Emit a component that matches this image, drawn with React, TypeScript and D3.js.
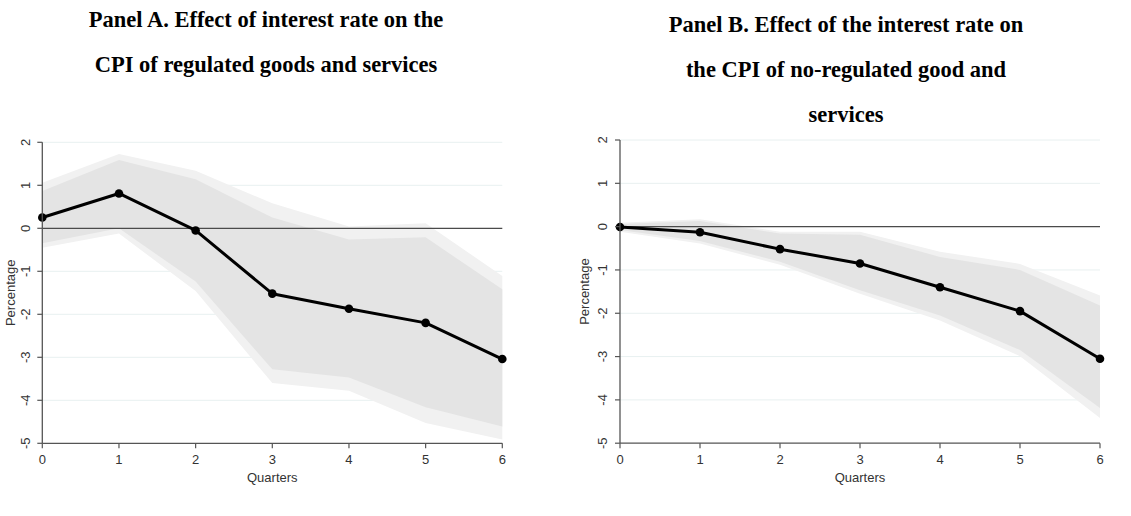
import React from "react";
import * as d3 from "d3";

// Horizons (quarters after the shock)
const quarters = [0, 1, 2, 3, 4, 5, 6];
const yTicks = [2, 1, 0, -1, -2, -3, -4, -5];

// Panel A: regulated goods and services
const regResponse = [0.25, 0.81, -0.05, -1.52, -1.87, -2.2, -3.04];
const regInnerHi = [0.87, 1.59, 1.14, 0.25, -0.26, -0.21, -1.42];
const regInnerLo = [-0.35, 0.0, -1.24, -3.28, -3.47, -4.16, -4.61];
const regOuterHi = [1.06, 1.73, 1.34, 0.58, 0.04, 0.12, -1.11];
const regOuterLo = [-0.45, -0.12, -1.46, -3.6, -3.78, -4.53, -4.91];

// Panel B: non-regulated goods and services
const nonRegResponse = [-0.01, -0.13, -0.52, -0.85, -1.4, -1.95, -3.05];
const nonRegInnerHi = [0.06, 0.13, -0.16, -0.19, -0.7, -1.0, -1.82];
const nonRegInnerLo = [-0.08, -0.33, -0.81, -1.47, -2.05, -2.85, -4.19];
const nonRegOuterHi = [0.09, 0.17, -0.12, -0.12, -0.58, -0.86, -1.59];
const nonRegOuterLo = [-0.12, -0.39, -0.88, -1.55, -2.17, -2.99, -4.42];

const titleA = ["Panel A. Effect of interest rate on the", "CPI of regulated goods and services"];
const titleB = [
  "Panel B. Effect of the interest rate on",
  "the CPI of no-regulated good and",
  "services",
];

const SANS = "'Liberation Sans', Arial, sans-serif";
const SERIF = "'Liberation Serif', 'Times New Roman', serif";

type PanelProps = {
  left: number;
  right: number;
  top: number;
  bottom: number;
  response: number[];
  innerHi: number[];
  innerLo: number[];
  outerHi: number[];
  outerLo: number[];
  tickLabelX: number;
  yTitleX: number;
  title: string[];
  titleX: number;
  titleY: number[];
};

function Panel(p: PanelProps) {
  const x = d3.scaleLinear().domain([0, 6]).range([p.left, p.right]);
  const y = d3.scaleLinear().domain([-5, 2]).range([p.bottom, p.top]);

  const band = (hi: number[], lo: number[]) =>
    d3
      .area<number>()
      .x((d) => x(d))
      .y0((d) => y(lo[d]))
      .y1((d) => y(hi[d]))(quarters) || "";

  const line = d3
    .line<number>()
    .x((d) => x(d))
    .y((d) => y(p.response[d]))(quarters) || "";

  const midX = (p.left + p.right) / 2;
  const midY = (p.top + p.bottom) / 2;

  return (
    <g>
      {p.title.map((t, i) => (
        <text
          key={t}
          x={p.titleX}
          y={p.titleY[i]}
          textAnchor="middle"
          fontFamily={SERIF}
          fontWeight="bold"
          fontSize={22.5}
          fill="#000"
        >
          {t}
        </text>
      ))}

      {/* grid */}
      {yTicks
        .filter((t) => t !== -5 && t !== 0)
        .map((t) => (
          <line
            key={`g${t}`}
            x1={p.left}
            x2={p.right}
            y1={y(t)}
            y2={y(t)}
            stroke="#e8f0f0"
            strokeWidth={1}
          />
        ))}

      {/* confidence bands */}
      <path d={band(p.outerHi, p.outerLo)} fill="#f1f1f1" />
      <path d={band(p.innerHi, p.innerLo)} fill="#e4e4e4" />

      {/* zero reference */}
      <line x1={p.left} x2={p.right} y1={y(0)} y2={y(0)} stroke="#4a4a4a" strokeWidth={1.3} />

      {/* impulse response */}
      <path d={line} fill="none" stroke="#000" strokeWidth={3} strokeLinejoin="round" />
      {quarters.map((q) => (
        <circle key={`p${q}`} cx={x(q)} cy={y(p.response[q])} r={4.3} fill="#000" />
      ))}

      {/* y axis */}
      <line x1={p.left} x2={p.left} y1={y(2)} y2={y(-5)} stroke="#555" strokeWidth={1.3} />
      {yTicks.map((t) => (
        <g key={`y${t}`}>
          <line x1={p.left - 5} x2={p.left} y1={y(t)} y2={y(t)} stroke="#555" strokeWidth={1.2} />
          <text
            transform={`translate(${p.tickLabelX},${y(t)}) rotate(-90)`}
            textAnchor="middle"
            dy="0.35em"
            fontFamily={SANS}
            fontSize={13}
            fill="#333"
          >
            {t}
          </text>
        </g>
      ))}
      <text
        transform={`translate(${p.yTitleX},${midY}) rotate(-90)`}
        textAnchor="middle"
        dy="0.35em"
        fontFamily={SANS}
        fontSize={13}
        fill="#333"
      >
        Percentage
      </text>

      {/* x axis */}
      <line x1={p.left} x2={p.right} y1={y(-5)} y2={y(-5)} stroke="#555" strokeWidth={1.3} />
      {quarters.map((q) => (
        <g key={`x${q}`}>
          <line x1={x(q)} x2={x(q)} y1={y(-5)} y2={y(-5) + 5} stroke="#555" strokeWidth={1.2} />
          <text x={x(q)} y={y(-5) + 21} textAnchor="middle" fontFamily={SANS} fontSize={13} fill="#333">
            {q}
          </text>
        </g>
      ))}
      <text x={midX} y={y(-5) + 39} textAnchor="middle" fontFamily={SANS} fontSize={13} fill="#333">
        Quarters
      </text>
    </g>
  );
}

export default function App() {
  return (
    <svg
      width={1131}
      height={516}
      style={{ position: "absolute", left: 0, top: 0, background: "#fff" }}
    >
      <rect width={1131} height={516} fill="#fff" />
      <Panel
        left={42.3}
        right={502.3}
        top={142.3}
        bottom={443.3}
        response={regResponse}
        innerHi={regInnerHi}
        innerLo={regInnerLo}
        outerHi={regOuterHi}
        outerLo={regOuterLo}
        tickLabelX={25}
        yTitleX={10}
        title={titleA}
        titleX={266}
        titleY={[27, 71.5]}
      />
      <Panel
        left={620}
        right={1100}
        top={140}
        bottom={443.2}
        response={nonRegResponse}
        innerHi={nonRegInnerHi}
        innerLo={nonRegInnerLo}
        outerHi={nonRegOuterHi}
        outerLo={nonRegOuterLo}
        tickLabelX={602}
        yTitleX={584}
        title={titleB}
        titleX={846}
        titleY={[32, 77, 122]}
      />
    </svg>
  );
}
